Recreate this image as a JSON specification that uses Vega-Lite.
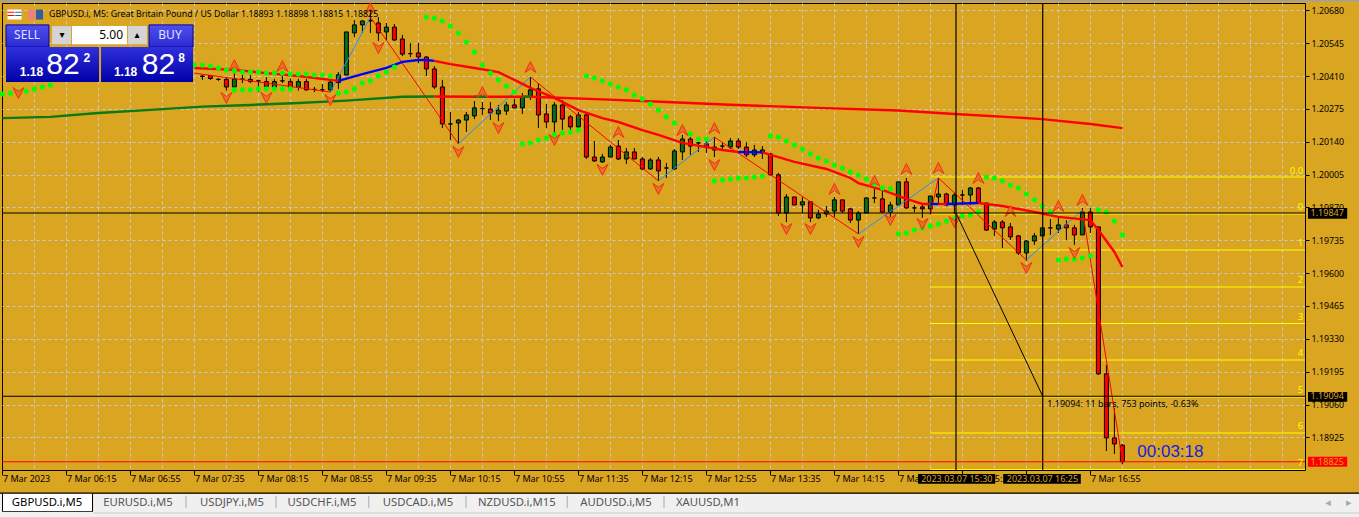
{"$schema":"https://vega.github.io/schema/vega-lite/v6.json","width":1303,"height":467,"autosize":"none","padding":{"left":2,"top":3,"right":54,"bottom":47},"background":"#DAA520","config":{"view":{"stroke":"#000","strokeWidth":1},"text":{"font":"Noto Sans"}},
"datasets":{
"bars":[
{"bar":25,"o":1.2041,"h":1.20414,"l":1.20394,"c":1.20408},{"bar":26,"o":1.20412,"h":1.20414,"l":1.20394,"c":1.204},{"bar":27,"o":1.20396,"h":1.20402,"l":1.2039,"c":1.20396},{"bar":28,"o":1.20396,"h":1.20406,"l":1.2035,"c":1.20365},{"bar":29,"o":1.20365,"h":1.20422,"l":1.20353,"c":1.20398},{"bar":30,"o":1.20397,"h":1.20414,"l":1.20381,"c":1.20397},{"bar":31,"o":1.20396,"h":1.20414,"l":1.20381,"c":1.20387},{"bar":32,"o":1.2039,"h":1.20394,"l":1.20344,"c":1.2039},{"bar":33,"o":1.20387,"h":1.20406,"l":1.20353,"c":1.20367},{"bar":34,"o":1.20363,"h":1.20398,"l":1.20353,"c":1.20387},{"bar":35,"o":1.2039,"h":1.20418,"l":1.20381,"c":1.2039},{"bar":36,"o":1.20387,"h":1.20399,"l":1.2035,"c":1.20363},{"bar":37,"o":1.20363,"h":1.20398,"l":1.2035,"c":1.20387},{"bar":38,"o":1.20387,"h":1.20398,"l":1.2035,"c":1.20353},{"bar":39,"o":1.20355,"h":1.20365,"l":1.20344,"c":1.20355},{"bar":40,"o":1.20353,"h":1.20377,"l":1.20344,"c":1.20353},{"bar":41,"o":1.20353,"h":1.20394,"l":1.20344,"c":1.20385},{"bar":42,"o":1.20383,"h":1.20426,"l":1.20357,"c":1.20415},{"bar":43,"o":1.20414,"h":1.20591,"l":1.20414,"c":1.20591},{"bar":44,"o":1.20587,"h":1.2064,"l":1.2057,"c":1.2062},{"bar":45,"o":1.2062,"h":1.2064,"l":1.20587,"c":1.20636},{"bar":46,"o":1.20638,"h":1.20702,"l":1.20587,"c":1.20636},{"bar":47,"o":1.20628,"h":1.20652,"l":1.20554,"c":1.20587},{"bar":48,"o":1.20591,"h":1.20628,"l":1.20558,"c":1.20611},{"bar":49,"o":1.20611,"h":1.20624,"l":1.20554,"c":1.20558},{"bar":50,"o":1.20562,"h":1.20579,"l":1.20492,"c":1.205},{"bar":51,"o":1.20502,"h":1.20546,"l":1.20488,"c":1.20502},{"bar":52,"o":1.20505,"h":1.20546,"l":1.20463,"c":1.20488},{"bar":53,"o":1.20488,"h":1.20492,"l":1.2041,"c":1.20439},{"bar":54,"o":1.20439,"h":1.20451,"l":1.20357,"c":1.20365},{"bar":55,"o":1.20365,"h":1.20394,"l":1.20196,"c":1.20213},{"bar":56,"o":1.20213,"h":1.20262,"l":1.20147,"c":1.20213},{"bar":57,"o":1.20217,"h":1.20233,"l":1.20131,"c":1.20229},{"bar":58,"o":1.20229,"h":1.20262,"l":1.2018,"c":1.2025},{"bar":59,"o":1.20246,"h":1.20307,"l":1.20233,"c":1.20279},{"bar":60,"o":1.20276,"h":1.20303,"l":1.2025,"c":1.20276},{"bar":61,"o":1.20274,"h":1.20303,"l":1.20229,"c":1.20258},{"bar":62,"o":1.20254,"h":1.20291,"l":1.20225,"c":1.2027},{"bar":63,"o":1.20266,"h":1.20303,"l":1.2025,"c":1.20291},{"bar":64,"o":1.20291,"h":1.20316,"l":1.20279,"c":1.20279},{"bar":65,"o":1.20279,"h":1.2034,"l":1.20254,"c":1.20324},{"bar":66,"o":1.20324,"h":1.20406,"l":1.20311,"c":1.20353},{"bar":67,"o":1.20357,"h":1.20381,"l":1.20196,"c":1.2025},{"bar":68,"o":1.20254,"h":1.20295,"l":1.20196,"c":1.20221},{"bar":69,"o":1.20221,"h":1.20303,"l":1.20176,"c":1.20291},{"bar":70,"o":1.20291,"h":1.20311,"l":1.20188,"c":1.20233},{"bar":71,"o":1.20242,"h":1.2025,"l":1.20188,"c":1.20201},{"bar":72,"o":1.20201,"h":1.20262,"l":1.20188,"c":1.2025},{"bar":73,"o":1.2025,"h":1.20258,"l":1.20069,"c":1.20077},{"bar":74,"o":1.20077,"h":1.20143,"l":1.20057,"c":1.20061},{"bar":75,"o":1.20057,"h":1.2009,"l":1.20053,"c":1.20077},{"bar":76,"o":1.20077,"h":1.20127,"l":1.20077,"c":1.20118},{"bar":77,"o":1.20122,"h":1.20147,"l":1.20065,"c":1.20069},{"bar":78,"o":1.20069,"h":1.20114,"l":1.20049,"c":1.20098},{"bar":79,"o":1.20098,"h":1.20114,"l":1.20069,"c":1.20069},{"bar":80,"o":1.20069,"h":1.20077,"l":1.20024,"c":1.20028},{"bar":81,"o":1.20028,"h":1.20073,"l":1.20024,"c":1.20065},{"bar":82,"o":1.20065,"h":1.20077,"l":1.19979,"c":1.2002},{"bar":83,"o":1.20032,"h":1.20053,"l":1.19991,"c":1.20032},{"bar":84,"o":1.20028,"h":1.2011,"l":1.20024,"c":1.20102},{"bar":85,"o":1.20098,"h":1.20168,"l":1.20065,"c":1.20151},{"bar":86,"o":1.20151,"h":1.20159,"l":1.20086,"c":1.20122},{"bar":87,"o":1.20135,"h":1.20139,"l":1.20098,"c":1.20135},{"bar":88,"o":1.20131,"h":1.20147,"l":1.20094,"c":1.20118},{"bar":89,"o":1.20106,"h":1.20159,"l":1.20077,"c":1.20118},{"bar":90,"o":1.20122,"h":1.20139,"l":1.20106,"c":1.20122},{"bar":91,"o":1.20118,"h":1.20155,"l":1.2011,"c":1.20143},{"bar":92,"o":1.20143,"h":1.20155,"l":1.2011,"c":1.20118},{"bar":93,"o":1.20118,"h":1.20139,"l":1.20077,"c":1.20086},{"bar":94,"o":1.20086,"h":1.20127,"l":1.20077,"c":1.20106},{"bar":95,"o":1.20094,"h":1.20122,"l":1.20069,"c":1.20106},{"bar":96,"o":1.2009,"h":1.20094,"l":1.2,"c":1.20004},{"bar":97,"o":1.20004,"h":1.20012,"l":1.19835,"c":1.19847},{"bar":98,"o":1.19847,"h":1.19925,"l":1.1981,"c":1.19913},{"bar":99,"o":1.19913,"h":1.19913,"l":1.1988,"c":1.1988},{"bar":100,"o":1.1988,"h":1.19913,"l":1.19847,"c":1.19893},{"bar":101,"o":1.19893,"h":1.19893,"l":1.1981,"c":1.19827},{"bar":102,"o":1.19827,"h":1.1986,"l":1.19822,"c":1.19843},{"bar":103,"o":1.19843,"h":1.19876,"l":1.19831,"c":1.19855},{"bar":104,"o":1.19855,"h":1.19913,"l":1.19831,"c":1.19901},{"bar":105,"o":1.19901,"h":1.19901,"l":1.19847,"c":1.19855},{"bar":106,"o":1.19864,"h":1.19868,"l":1.19806,"c":1.19818},{"bar":107,"o":1.19818,"h":1.19855,"l":1.19761,"c":1.19847},{"bar":108,"o":1.19847,"h":1.19913,"l":1.19847,"c":1.19909},{"bar":109,"o":1.19909,"h":1.19946,"l":1.19888,"c":1.19909},{"bar":110,"o":1.19905,"h":1.1995,"l":1.19847,"c":1.19851},{"bar":111,"o":1.19851,"h":1.19893,"l":1.19831,"c":1.1988},{"bar":112,"o":1.1988,"h":1.19975,"l":1.1988,"c":1.19975},{"bar":113,"o":1.19975,"h":1.19991,"l":1.19864,"c":1.19868},{"bar":114,"o":1.19868,"h":1.1988,"l":1.19851,"c":1.19868},{"bar":115,"o":1.19872,"h":1.19888,"l":1.19827,"c":1.19864},{"bar":116,"o":1.19864,"h":1.19917,"l":1.19843,"c":1.19917},{"bar":117,"o":1.19913,"h":1.19991,"l":1.1988,"c":1.19925},{"bar":118,"o":1.19925,"h":1.1993,"l":1.19876,"c":1.1988},{"bar":119,"o":1.1988,"h":1.1993,"l":1.19843,"c":1.19921},{"bar":120,"o":1.19921,"h":1.19942,"l":1.1988,"c":1.19921},{"bar":121,"o":1.19921,"h":1.19954,"l":1.1988,"c":1.1995},{"bar":122,"o":1.1995,"h":1.19954,"l":1.19884,"c":1.19888},{"bar":123,"o":1.19888,"h":1.19888,"l":1.19773,"c":1.19777},{"bar":124,"o":1.19781,"h":1.19818,"l":1.19753,"c":1.1981},{"bar":125,"o":1.1981,"h":1.19818,"l":1.19703,"c":1.19786},{"bar":126,"o":1.1979,"h":1.19806,"l":1.19736,"c":1.19749},{"bar":127,"o":1.19753,"h":1.19757,"l":1.19675,"c":1.19683},{"bar":128,"o":1.19683,"h":1.19736,"l":1.1965,"c":1.19732},{"bar":129,"o":1.19732,"h":1.19765,"l":1.19716,"c":1.19753},{"bar":130,"o":1.19753,"h":1.19786,"l":1.19753,"c":1.19786},{"bar":131,"o":1.19786,"h":1.19822,"l":1.19757,"c":1.19786},{"bar":132,"o":1.19781,"h":1.19827,"l":1.19765,"c":1.19798},{"bar":133,"o":1.19798,"h":1.19818,"l":1.19736,"c":1.19786},{"bar":134,"o":1.19786,"h":1.19798,"l":1.19716,"c":1.19757},{"bar":135,"o":1.19757,"h":1.19868,"l":1.19757,"c":1.19851},{"bar":136,"o":1.19851,"h":1.19868,"l":1.19765,"c":1.1979},{"bar":137,"o":1.1979,"h":1.1979,"l":1.19182,"c":1.19186},{"bar":138,"o":1.19186,"h":1.19223,"l":1.18869,"c":1.18923},{"bar":139,"o":1.18923,"h":1.19046,"l":1.18857,"c":1.18898},{"bar":140,"o":1.18893,"h":1.18898,"l":1.18815,"c":1.18825}],
"sar":[
{"bar":0,"price":1.20336},{"bar":1,"price":1.2034},{"bar":2,"price":1.20344},{"bar":3,"price":1.20348},{"bar":4,"price":1.20357},{"bar":5,"price":1.20365},{"bar":6,"price":1.20373},
{"bar":24,"price":1.20455},{"bar":25,"price":1.20455},{"bar":26,"price":1.20451},{"bar":27,"price":1.20443},{"bar":28,"price":1.20435},{"bar":29,"price":1.20431},{"bar":30,"price":1.20426},{"bar":31,"price":1.20426},{"bar":32,"price":1.20426},{"bar":33,"price":1.20422},{"bar":34,"price":1.20422},{"bar":35,"price":1.20422},{"bar":36,"price":1.20418},{"bar":37,"price":1.20418},{"bar":38,"price":1.20418},{"bar":39,"price":1.20414},{"bar":40,"price":1.20414},{"bar":41,"price":1.2041},
{"bar":29,"price":1.20353},{"bar":30,"price":1.20353},{"bar":31,"price":1.20353},{"bar":32,"price":1.20357},{"bar":33,"price":1.20357},{"bar":34,"price":1.20357},{"bar":35,"price":1.20357},{"bar":36,"price":1.20357},
{"bar":42,"price":1.2034},{"bar":43,"price":1.20344},{"bar":44,"price":1.20357},{"bar":45,"price":1.20381},{"bar":46,"price":1.2039},{"bar":47,"price":1.2041},{"bar":48,"price":1.20426},{"bar":49,"price":1.20447},
{"bar":53,"price":1.20652},{"bar":54,"price":1.20648},{"bar":55,"price":1.20636},{"bar":56,"price":1.20615},{"bar":57,"price":1.20587},{"bar":58,"price":1.2055},{"bar":59,"price":1.20509},{"bar":60,"price":1.20455},{"bar":61,"price":1.20422},{"bar":62,"price":1.20394},{"bar":63,"price":1.20369},{"bar":64,"price":1.20344},
{"bar":65,"price":1.20131},{"bar":66,"price":1.20135},{"bar":67,"price":1.20147},{"bar":68,"price":1.20155},{"bar":69,"price":1.20168},{"bar":70,"price":1.20176},{"bar":71,"price":1.2018},{"bar":72,"price":1.20188},
{"bar":73,"price":1.2041},{"bar":74,"price":1.20402},{"bar":75,"price":1.2039},{"bar":76,"price":1.20377},{"bar":77,"price":1.20365},{"bar":78,"price":1.20353},{"bar":79,"price":1.20332},{"bar":80,"price":1.20316},{"bar":81,"price":1.20295},{"bar":82,"price":1.2027},{"bar":83,"price":1.20242},{"bar":84,"price":1.20217},{"bar":85,"price":1.20192},{"bar":86,"price":1.20172},{"bar":87,"price":1.20151},{"bar":88,"price":1.20151},
{"bar":89,"price":1.19979},{"bar":90,"price":1.19983},{"bar":91,"price":1.19987},{"bar":92,"price":1.19991},{"bar":93,"price":1.19991},{"bar":94,"price":1.19995},{"bar":95,"price":1.19999},
{"bar":96,"price":1.20164},{"bar":97,"price":1.20159},{"bar":98,"price":1.20143},{"bar":99,"price":1.20127},{"bar":100,"price":1.2011},{"bar":101,"price":1.2009},{"bar":102,"price":1.20073},{"bar":103,"price":1.20061},{"bar":104,"price":1.20044},{"bar":105,"price":1.20032},{"bar":106,"price":1.20016},{"bar":107,"price":1.20003},{"bar":108,"price":1.19987},{"bar":109,"price":1.19966},{"bar":110,"price":1.1995},{"bar":111,"price":1.19946},
{"bar":112,"price":1.19761},{"bar":113,"price":1.19765},{"bar":114,"price":1.19777},{"bar":115,"price":1.19786},{"bar":116,"price":1.19794},{"bar":117,"price":1.19802},{"bar":118,"price":1.19814},{"bar":119,"price":1.19822},{"bar":120,"price":1.19835},{"bar":121,"price":1.19839},{"bar":122,"price":1.19851},
{"bar":123,"price":1.19995},{"bar":124,"price":1.19991},{"bar":125,"price":1.19979},{"bar":126,"price":1.19962},{"bar":127,"price":1.1995},{"bar":128,"price":1.19925},{"bar":129,"price":1.19901},{"bar":130,"price":1.19876},{"bar":131,"price":1.19851},
{"bar":132,"price":1.19654},{"bar":133,"price":1.19658},{"bar":134,"price":1.19658},{"bar":135,"price":1.19662},{"bar":136,"price":1.19671},
{"bar":137,"price":1.1986},{"bar":138,"price":1.19851},{"bar":139,"price":1.19814},{"bar":140,"price":1.19757}],
"fractals":[
{"bar":29,"price":1.20455,"kind":"peak"},{"bar":35,"price":1.20451,"kind":"peak"},{"bar":46,"price":1.20689,"kind":"peak"},{"bar":60,"price":1.20344,"kind":"peak"},{"bar":66,"price":1.20447,"kind":"peak"},{"bar":77,"price":1.2018,"kind":"peak"},{"bar":85,"price":1.20188,"kind":"peak"},{"bar":89,"price":1.20196,"kind":"peak"},{"bar":104,"price":1.19946,"kind":"peak"},{"bar":109,"price":1.19979,"kind":"peak"},{"bar":113,"price":1.20028,"kind":"peak"},{"bar":117,"price":1.20032,"kind":"peak"},{"bar":122,"price":1.19991,"kind":"peak"},{"bar":126,"price":1.19855,"kind":"peak"},{"bar":132,"price":1.19876,"kind":"peak"},{"bar":135,"price":1.19901,"kind":"peak"},
{"bar":2,"price":1.2034,"kind":"trough"},{"bar":28,"price":1.2032,"kind":"trough"},{"bar":33,"price":1.2032,"kind":"trough"},{"bar":41,"price":1.20311,"kind":"trough"},{"bar":47,"price":1.20525,"kind":"trough"},{"bar":57,"price":1.20098,"kind":"trough"},{"bar":62,"price":1.20196,"kind":"trough"},{"bar":69,"price":1.20147,"kind":"trough"},{"bar":75,"price":1.20024,"kind":"trough"},{"bar":82,"price":1.19946,"kind":"trough"},{"bar":89,"price":1.20044,"kind":"trough"},{"bar":98,"price":1.19781,"kind":"trough"},{"bar":101,"price":1.19781,"kind":"trough"},{"bar":107,"price":1.19728,"kind":"trough"},{"bar":111,"price":1.19818,"kind":"trough"},{"bar":115,"price":1.19802,"kind":"trough"},{"bar":119,"price":1.1981,"kind":"trough"},{"bar":128,"price":1.19621,"kind":"trough"},{"bar":134,"price":1.19683,"kind":"trough"}],
"zigzag":[
{"bar":24,"price":1.20422,"leg":"a","trend":"zig-down"},{"bar":41,"price":1.20344,"leg":"a","trend":"zig-down"},
{"bar":41,"price":1.20344,"leg":"b","trend":"zig-up"},{"bar":46,"price":1.20652,"leg":"b","trend":"zig-up"},
{"bar":46,"price":1.20652,"leg":"c","trend":"zig-down"},{"bar":57,"price":1.20131,"leg":"c","trend":"zig-down"},
{"bar":57,"price":1.20131,"leg":"d","trend":"zig-up"},{"bar":66,"price":1.20406,"leg":"d","trend":"zig-up"},
{"bar":66,"price":1.20406,"leg":"e","trend":"zig-down"},{"bar":82,"price":1.19979,"leg":"e","trend":"zig-down"},
{"bar":82,"price":1.19979,"leg":"f","trend":"zig-up"},{"bar":89,"price":1.20159,"leg":"f","trend":"zig-up"},
{"bar":89,"price":1.20159,"leg":"g","trend":"zig-down"},{"bar":107,"price":1.19761,"leg":"g","trend":"zig-down"},
{"bar":107,"price":1.19761,"leg":"h","trend":"zig-up"},{"bar":117,"price":1.19991,"leg":"h","trend":"zig-up"},
{"bar":116,"price":1.19839,"leg":"i","trend":"zig-down"},{"bar":117,"price":1.19991,"leg":"i","trend":"zig-down"},
{"bar":117,"price":1.19991,"leg":"j","trend":"zig-down"},{"bar":128,"price":1.19654,"leg":"j","trend":"zig-down"},
{"bar":128,"price":1.19654,"leg":"k","trend":"zig-up"},{"bar":135,"price":1.1986,"leg":"k","trend":"zig-up"},
{"bar":135,"price":1.1986,"leg":"l","trend":"zig-down"},{"bar":140,"price":1.18828,"leg":"l","trend":"zig-down"}],
"ma":[
{"bar":0,"price":1.20237,"leg":"L1","trend":"long-up"},{"bar":6,"price":1.20242,"leg":"L1","trend":"long-up"},{"bar":12,"price":1.20258,"leg":"L1","trend":"long-up"},{"bar":18,"price":1.2027,"leg":"L1","trend":"long-up"},{"bar":25,"price":1.20284,"leg":"L1","trend":"long-up"},{"bar":31,"price":1.20291,"leg":"L1","trend":"long-up"},{"bar":37,"price":1.20299,"leg":"L1","trend":"long-up"},{"bar":43,"price":1.20309,"leg":"L1","trend":"long-up"},{"bar":50,"price":1.20325,"leg":"L1","trend":"long-up"},{"bar":54,"price":1.20326,"leg":"L1","trend":"long-up"},
{"bar":54,"price":1.20326,"leg":"L2","trend":"long-down"},{"bar":60,"price":1.20325,"leg":"L2","trend":"long-down"},{"bar":66,"price":1.20325,"leg":"L2","trend":"long-down"},{"bar":75,"price":1.20314,"leg":"L2","trend":"long-down"},{"bar":83,"price":1.20303,"leg":"L2","trend":"long-down"},{"bar":91,"price":1.20292,"leg":"L2","trend":"long-down"},{"bar":102,"price":1.20279,"leg":"L2","trend":"long-down"},{"bar":112,"price":1.20268,"leg":"L2","trend":"long-down"},{"bar":118,"price":1.20256,"leg":"L2","trend":"long-down"},{"bar":130,"price":1.20233,"leg":"L2","trend":"long-down"},{"bar":136,"price":1.20213,"leg":"L2","trend":"long-down"},{"bar":140,"price":1.20196,"leg":"L2","trend":"long-down"},
{"bar":59,"price":1.20325,"leg":"L3","trend":"long-up"},{"bar":60.5,"price":1.20325,"leg":"L3","trend":"long-up"},{"bar":65,"price":1.20325,"leg":"L4","trend":"long-up"},{"bar":66,"price":1.20325,"leg":"L4","trend":"long-up"},
{"bar":24,"price":1.20443,"leg":"F1","trend":"fast-down"},{"bar":29,"price":1.20435,"leg":"F1","trend":"fast-down"},{"bar":33,"price":1.20422,"leg":"F1","trend":"fast-down"},{"bar":37,"price":1.2041,"leg":"F1","trend":"fast-down"},{"bar":41,"price":1.20394,"leg":"F1","trend":"fast-down"},{"bar":42,"price":1.2039,"leg":"F1","trend":"fast-down"},
{"bar":42,"price":1.2039,"leg":"F2","trend":"fast-up"},{"bar":45,"price":1.20418,"leg":"F2","trend":"fast-up"},{"bar":48,"price":1.20443,"leg":"F2","trend":"fast-up"},{"bar":50,"price":1.20468,"leg":"F2","trend":"fast-up"},{"bar":52,"price":1.20476,"leg":"F2","trend":"fast-up"},{"bar":53,"price":1.20476,"leg":"F2","trend":"fast-up"},{"bar":54,"price":1.20472,"leg":"F2","trend":"fast-up"},
{"bar":54,"price":1.20472,"leg":"F3","trend":"fast-down"},{"bar":56,"price":1.20459,"leg":"F3","trend":"fast-down"},{"bar":59,"price":1.20443,"leg":"F3","trend":"fast-down"},{"bar":62,"price":1.20426,"leg":"F3","trend":"fast-down"},{"bar":64,"price":1.20394,"leg":"F3","trend":"fast-down"},{"bar":66,"price":1.20361,"leg":"F3","trend":"fast-down"},{"bar":69,"price":1.2032,"leg":"F3","trend":"fast-down"},{"bar":72,"price":1.2027,"leg":"F3","trend":"fast-down"},{"bar":75,"price":1.20237,"leg":"F3","trend":"fast-down"},{"bar":77,"price":1.20221,"leg":"F3","trend":"fast-down"},{"bar":80,"price":1.20188,"leg":"F3","trend":"fast-down"},{"bar":82,"price":1.20168,"leg":"F3","trend":"fast-down"},{"bar":85,"price":1.20135,"leg":"F3","trend":"fast-down"},{"bar":88,"price":1.20118,"leg":"F3","trend":"fast-down"},{"bar":90,"price":1.20106,"leg":"F3","trend":"fast-down"},{"bar":92,"price":1.20098,"leg":"F3","trend":"fast-down"},
{"bar":92,"price":1.20098,"leg":"F4","trend":"fast-up"},{"bar":95,"price":1.20096,"leg":"F4","trend":"fast-up"},
{"bar":95,"price":1.20096,"leg":"F5","trend":"fast-down"},{"bar":97,"price":1.20077,"leg":"F5","trend":"fast-down"},{"bar":99,"price":1.20057,"leg":"F5","trend":"fast-down"},{"bar":103,"price":1.20028,"leg":"F5","trend":"fast-down"},{"bar":106,"price":1.19991,"leg":"F5","trend":"fast-down"},{"bar":107,"price":1.1997,"leg":"F5","trend":"fast-down"},{"bar":110,"price":1.19942,"leg":"F5","trend":"fast-down"},{"bar":113,"price":1.19905,"leg":"F5","trend":"fast-down"},{"bar":115,"price":1.19884,"leg":"F5","trend":"fast-down"},{"bar":116,"price":1.19884,"leg":"F5","trend":"fast-down"},
{"bar":116,"price":1.19884,"leg":"F6","trend":"fast-up"},{"bar":117,"price":1.19884,"leg":"F6","trend":"fast-up"},
{"bar":117,"price":1.19884,"leg":"F7","trend":"fast-down"},{"bar":118,"price":1.19884,"leg":"F7","trend":"fast-down"},
{"bar":118,"price":1.19884,"leg":"F8","trend":"fast-up"},{"bar":122,"price":1.19888,"leg":"F8","trend":"fast-up"},
{"bar":122,"price":1.19888,"leg":"F9","trend":"fast-down"},{"bar":125,"price":1.19876,"leg":"F9","trend":"fast-down"},{"bar":129,"price":1.19851,"leg":"F9","trend":"fast-down"},{"bar":132,"price":1.19831,"leg":"F9","trend":"fast-down"},{"bar":136,"price":1.19818,"leg":"F9","trend":"fast-down"},{"bar":137,"price":1.19777,"leg":"F9","trend":"fast-down"},{"bar":139,"price":1.19687,"leg":"F9","trend":"fast-down"},{"bar":140,"price":1.19625,"leg":"F9","trend":"fast-down"}],
"ui":[
{"part":"strip","bar":-0.3,"bar2":169.6,"price":1.18693,"price2":1.18598},
{"part":"black","bar":-0.3,"bar2":169.6,"price":1.18699,"price2":1.18693},
{"part":"tabline","bar":11.33,"bar2":169.6,"price":1.18617,"price2":1.18611},
{"part":"black","bar":-0.05,"bar2":11.33,"price":1.18697,"price2":1.18619},
{"part":"white","bar":0.075,"bar2":11.2,"price":1.18693,"price2":1.18623},
{"part":"top","bar":-0.3,"bar2":169.6,"price":1.20722,"price2":1.20716},
{"part":"black","bar":114.45,"bar2":124.1,"price":1.18775,"price2":1.18734},
{"part":"black","bar":125.1,"bar2":134.8,"price":1.18775,"price2":1.18734},
{"part":"black","bar":163.2,"bar2":168.1,"price":1.19868,"price2":1.19823},
{"part":"black","bar":163.2,"bar2":168.1,"price":1.19112,"price2":1.19071},
{"part":"red","bar":163.2,"bar2":168.1,"price":1.18845,"price2":1.18804},
{"part":"white","bar":0.64,"bar2":2.39,"price":1.20683,"price2":1.20642},
{"part":"red","bar":0.64,"bar2":1.51,"price":1.20674,"price2":1.2067},
{"part":"red","bar":0.64,"bar2":1.51,"price":1.20661,"price2":1.20657},
{"part":"navy","bar":1.6,"bar2":2.39,"price":1.20674,"price2":1.2067},
{"part":"navy","bar":1.6,"bar2":2.39,"price":1.20661,"price2":1.20657},
{"part":"pink","bar":3.2,"bar2":4.08,"price":1.20683,"price2":1.20642},
{"part":"navy","bar":4.2,"bar2":5.08,"price":1.20683,"price2":1.20642},
{"part":"gray","bar":6.2,"bar2":8.58,"price":1.20615,"price2":1.20541},
{"part":"white","bar":8.7,"bar2":15.58,"price":1.20615,"price2":1.20541},
{"part":"gray","bar":15.7,"bar2":18.07,"price":1.20615,"price2":1.20541}],
"tabs":[{"bar":5.575,"price":1.18656,"label":"GBPUSD.i,M5","active":true},{"bar":16.95,"price":1.18656,"label":"EURUSD.i,M5"},{"bar":28.7,"price":1.18656,"label":"USDJPY.i,M5"},{"bar":39.95,"price":1.18656,"label":"USDCHF.i,M5"},{"bar":51.95,"price":1.18656,"label":"USDCAD.i,M5"},{"bar":64.3,"price":1.18656,"label":"NZDUSD.i,M15"},{"bar":76.7,"price":1.18656,"label":"AUDUSD.i,M5"},{"bar":88.2,"price":1.18656,"label":"XAUUSD,M1"}],
"fib":[{"bar":116,"bar2":162.825,"price":1.19995},{"bar":116,"bar2":162.825,"price":1.19843},{"bar":116,"bar2":162.825,"price":1.19695},{"bar":116,"bar2":162.825,"price":1.19543},{"bar":116,"bar2":162.825,"price":1.19393},{"bar":116,"bar2":162.825,"price":1.19243},{"bar":116,"bar2":162.825,"price":1.19091},{"bar":116,"bar2":162.825,"price":1.18943},{"bar":116,"bar2":162.825,"price":1.18793}]
},
"encoding":{
"x":{"field":"bar","type":"quantitative","title":null,"scale":{"domain":[-0.05,162.825],"nice":false,"zero":false,"padding":0},"axis":{"values":[0,4,8,12,16,20,24,28,32,36,40,44,48,52,56,60,64,68,72,76,80,84,88,92,96,100,104,108,112,116,120,124,128,132,136,140,144,148,152,156,160],"title":null,"grid":true,"gridColor":"#C2CAD8","gridDash":[3,3],"gridWidth":1,"gridOpacity":{"condition":{"test":"datum.value==0","value":0},"value":1},"domain":false,"tickColor":"#000","tickSize":5,"tickOpacity":{"condition":{"test":"datum.value%8==0&&datum.value<=136","value":1},"value":0},"labelAlign":"left","labelBaseline":"top","labelPadding":-1,"labelFont":"Noto Sans","labelFontSize":9,"labelColor":"#000","labelOverlap":false,"labelBound":false,"labelFlush":false,"labelExpr":"['7 Mar 2023','7 Mar 06:15','7 Mar 06:55','7 Mar 07:35','7 Mar 08:15','7 Mar 08:55','7 Mar 09:35','7 Mar 10:15','7 Mar 10:55','7 Mar 11:35','7 Mar 12:15','7 Mar 12:55','7 Mar 13:35','7 Mar 14:15','7 Mar 14:55','7 Mar 15:35','7 Mar 16:15','7 Mar 16:55'][datum.value/8]||''"}},
"y":{"field":"price","type":"quantitative","title":null,"scale":{"domain":[1.18791,1.2071],"nice":false,"zero":false},"axis":{"orient":"right","values":[1.2068,1.20545,1.2041,1.20275,1.2014,1.20005,1.1987,1.19735,1.196,1.19465,1.1933,1.19195,1.1906,1.18925],"format":".5f","title":null,"grid":true,"gridColor":"#C2CAD8","gridDash":[3,3],"domain":false,"tickColor":"#000","tickSize":4,"labelPadding":2,"labelFont":"Noto Sans","labelFontSize":8.8,"labelColor":"#000","labelOverlap":false,"labelBound":false}}},
"layer":[
{"data":{"name":"fib"},"mark":{"type":"rule","color":"#FFFF00","strokeWidth":1},"encoding":{"x2":{"field":"bar2"}}},
{"data":{"name":"bars"},"mark":{"type":"rule","color":"#000","strokeWidth":1},"encoding":{"y":{"field":"h","type":"quantitative","title":null,"scale":{"domain":[1.18791,1.2071],"nice":false,"zero":false},"axis":{"orient":"right","values":[1.2068,1.20545,1.2041,1.20275,1.2014,1.20005,1.1987,1.19735,1.196,1.19465,1.1933,1.19195,1.1906,1.18925],"format":".5f","title":null,"grid":true,"gridColor":"#C2CAD8","gridDash":[3,3],"domain":false,"tickColor":"#000","tickSize":4,"labelPadding":2,"labelFont":"Noto Sans","labelFontSize":8.8,"labelColor":"#000","labelOverlap":false,"labelBound":false}},"y2":{"field":"l"}}},
{"data":{"name":"bars"},"mark":{"type":"bar","size":4,"stroke":"#000","strokeWidth":1},"encoding":{"y":{"field":"o","type":"quantitative","title":null,"scale":{"domain":[1.18791,1.2071],"nice":false,"zero":false},"axis":{"orient":"right","values":[1.2068,1.20545,1.2041,1.20275,1.2014,1.20005,1.1987,1.19735,1.196,1.19465,1.1933,1.19195,1.1906,1.18925],"format":".5f","title":null,"grid":true,"gridColor":"#C2CAD8","gridDash":[3,3],"domain":false,"tickColor":"#000","tickSize":4,"labelPadding":2,"labelFont":"Noto Sans","labelFontSize":8.8,"labelColor":"#000","labelOverlap":false,"labelBound":false}},"y2":{"field":"c"},"fill":{"condition":{"test":"datum.c>=datum.o","value":"#0b6b16"},"value":"#ff0000"}}},
{"data":{"name":"zigzag"},"mark":{"type":"line","strokeWidth":1},"encoding":{"detail":{"field":"leg"},"color":{"field":"trend","legend":null,"scale":{"domain":["long-up","long-down","fast-up","fast-down","zig-up","zig-down"],"range":["#0a7a14","#ff0000","#0000ff","#ff0000","#1e90ff","#ff0000"]}}}},
{"data":{"name":"ma"},"mark":{"type":"line","strokeWidth":2.4},"encoding":{"detail":{"field":"leg"},"color":{"field":"trend","legend":null}}},
{"data":{"name":"sar"},"mark":{"type":"circle","size":26,"color":"#00FF00","opacity":1}},
{"data":{"name":"fractals"},"mark":{"type":"point","filled":true,"size":120,"fill":"#e8702a","stroke":"#f03010","strokeWidth":1,"opacity":1},"encoding":{"shape":{"field":"kind","legend":null,"scale":{"domain":["peak","trough"],"range":["M0,-1L1,1L0,0.3L-1,1Z","M0,1L1,-1L0,-0.3L-1,-1Z"]}}}},
{"data":{"values":[{"bar":119.2,"price":1.2071,"price2":1.18791},{"bar":130.04,"price":1.2071,"price2":1.18791}]},"mark":{"type":"rule","color":"#000","strokeWidth":1.2},"encoding":{"y2":{"field":"price2"}}},
{"data":{"values":[{"bar":-0.05,"bar2":162.825,"price":1.19847},{"bar":-0.05,"bar2":162.825,"price":1.19094}]},"mark":{"type":"rule","color":"#000","strokeWidth":1.2},"encoding":{"x2":{"field":"bar2"}}},
{"data":{"values":[{"bar":-0.05,"bar2":162.825,"price":1.18825}]},"mark":{"type":"rule","color":"#ff0000","strokeWidth":1.2},"encoding":{"x2":{"field":"bar2"}}},
{"data":{"values":[{"bar":119.2,"price":1.19847},{"bar":130.04,"price":1.19094}]},"mark":{"type":"line","color":"#000","strokeWidth":1}},
{"data":{"name":"ui"},"mark":{"type":"rect"},"encoding":{"x2":{"field":"bar2"},"y2":{"field":"price2"},"fill":{"field":"part","legend":null,"scale":{"domain":["strip","black","tabline","white","top","red","navy","pink","gray"],"range":["#F0F0F0","#000000","#D8D8D8","#FFFFFF","#A0A0A0","#FF0000","#2F5F9F","#F08080","#D4D4D4"]}}}},
{"data":{"values":[{"bar":0.45,"bar2":5.82,"price":1.2062,"price2":1.20529},{"bar":18.33,"bar2":23.83,"price":1.2062,"price2":1.20529}]},"mark":{"type":"rect","stroke":"#0000a0","strokeWidth":1,"fill":{"gradient":"linear","x1":0,"y1":0,"x2":0,"y2":1,"stops":[{"offset":0,"color":"#5050f0"},{"offset":1,"color":"#2a2ad0"}]}},"encoding":{"x2":{"field":"bar2"},"y2":{"field":"price2"}}},
{"data":{"values":[{"bar":0.45,"bar2":12.08,"price":1.20529,"price2":1.20385},{"bar":12.33,"bar2":23.83,"price":1.20529,"price2":1.20385}]},"mark":{"type":"rect","fill":{"gradient":"linear","x1":0,"y1":0,"x2":0,"y2":1,"stops":[{"offset":0,"color":"#3030dc"},{"offset":1,"color":"#0000a8"}]}},"encoding":{"x2":{"field":"bar2"},"y2":{"field":"price2"}}},
{"data":{"values":[{"bar":3.08,"price":1.20579,"label":"SELL"},{"bar":20.95,"price":1.20579,"label":"BUY"}]},"mark":{"type":"text","fontSize":12,"color":"#E0E4FF"},"encoding":{"text":{"field":"label"}}},
{"data":{"values":[{"bar":15.08,"price":1.20579,"label":"5.00"}]},"mark":{"type":"text","fontSize":12,"color":"#000","align":"right"},"encoding":{"text":{"field":"label"}}},
{"data":{"values":[{"bar":7.45,"price":1.20579,"label":"▾"},{"bar":16.83,"price":1.20579,"label":"▴"}]},"mark":{"type":"text","fontSize":10,"color":"#000","font":"DejaVu Sans"},"encoding":{"text":{"field":"label"}}},
{"data":{"values":[{"bar":3.64,"price":1.20428,"label":"1.18"},{"bar":15.4,"price":1.20428,"label":"1.18"}]},"mark":{"type":"text","fontSize":12,"fontWeight":"bold","color":"#fff","font":"Liberation Sans"},"encoding":{"text":{"field":"label"}}},
{"data":{"values":[{"bar":7.58,"price":1.20455,"label":"82"},{"bar":19.5,"price":1.20455,"label":"82"}]},"mark":{"type":"text","fontSize":30,"color":"#fff","font":"Liberation Sans"},"encoding":{"text":{"field":"label"}}},
{"data":{"values":[{"bar":10.54,"price":1.20483,"label":"2"},{"bar":22.4,"price":1.20483,"label":"8"}]},"mark":{"type":"text","fontSize":12,"fontWeight":"bold","color":"#fff","font":"Liberation Sans"},"encoding":{"text":{"field":"label"}}},
{"data":{"values":[{"bar":5.825,"price":1.20663,"label":"GBPUSD.i, M5:  Great Britain Pound / US Dollar  1.18893 1.18898 1.18815 1.18825"}]},"mark":{"type":"text","fontSize":8.8,"color":"#000","align":"left"},"encoding":{"text":{"field":"label"}}},
{"data":{"values":[{"bar":130.6,"price":1.19062,"label":"1.19094: 11 bars, 753 points, -0.63%"}]},"mark":{"type":"text","fontSize":9,"color":"#000","align":"left"},"encoding":{"text":{"field":"label"}}},
{"data":{"values":[{"bar":146,"price":1.18865,"label":"00:03:18"}]},"mark":{"type":"text","fontSize":17,"color":"#1a1ae6","font":"Liberation Sans"},"encoding":{"text":{"field":"label"}}},
{"data":{"values":[{"bar":162.6,"price":1.2002,"label":"0.0"},{"bar":162.6,"price":1.19872,"label":"0"},{"bar":162.6,"price":1.19724,"label":"1"},{"bar":162.6,"price":1.19572,"label":"2"},{"bar":162.6,"price":1.1942,"label":"3"},{"bar":162.6,"price":1.19272,"label":"4"},{"bar":162.6,"price":1.1912,"label":"5"},{"bar":162.6,"price":1.18972,"label":"6"},{"bar":162.6,"price":1.1882,"label":"7"}]},"mark":{"type":"text","fontSize":9.5,"color":"#FFFF00","align":"right"},"encoding":{"text":{"field":"label"}}},
{"data":{"values":[{"bar":165.6,"price":1.19847,"label":"1.19847"},{"bar":165.6,"price":1.19094,"label":"1.19094"},{"bar":119.3,"price":1.18754,"label":"2023.03.07 15:30"},{"bar":130,"price":1.18754,"label":"2023.03.07 16:25"}]},"mark":{"type":"text","fontSize":9,"color":"#DAA520"},"encoding":{"text":{"field":"label"}}},
{"data":{"values":[{"bar":165.6,"price":1.18825,"label":"1.18825"}]},"mark":{"type":"text","fontSize":9,"color":"#E8A020"},"encoding":{"text":{"field":"label"}}},
{"data":{"name":"tabs"},"mark":{"type":"text","fontSize":11.3},"encoding":{"text":{"field":"label"},"color":{"condition":{"test":"datum.active","value":"#000"},"value":"#555"}}},
{"data":{"values":[{"bar":22.95,"price":1.18685,"price2":1.18635},{"bar":34.2,"price":1.18685,"price2":1.18635},{"bar":45.8,"price":1.18685,"price2":1.18635},{"bar":57.95,"price":1.18685,"price2":1.18635},{"bar":70.6,"price":1.18685,"price2":1.18635},{"bar":82.7,"price":1.18685,"price2":1.18635}]},"mark":{"type":"rule","color":"#a8a8a8","strokeWidth":1},"encoding":{"y2":{"field":"price2"}}},
{"data":{"values":[{"bar":165.7,"price":1.18656,"label":"◂"},{"bar":168.3,"price":1.18656,"label":"▸"}]},"mark":{"type":"text","fontSize":11,"color":"#a8a8a8","font":"DejaVu Sans"},"encoding":{"text":{"field":"label"}}}
]}
